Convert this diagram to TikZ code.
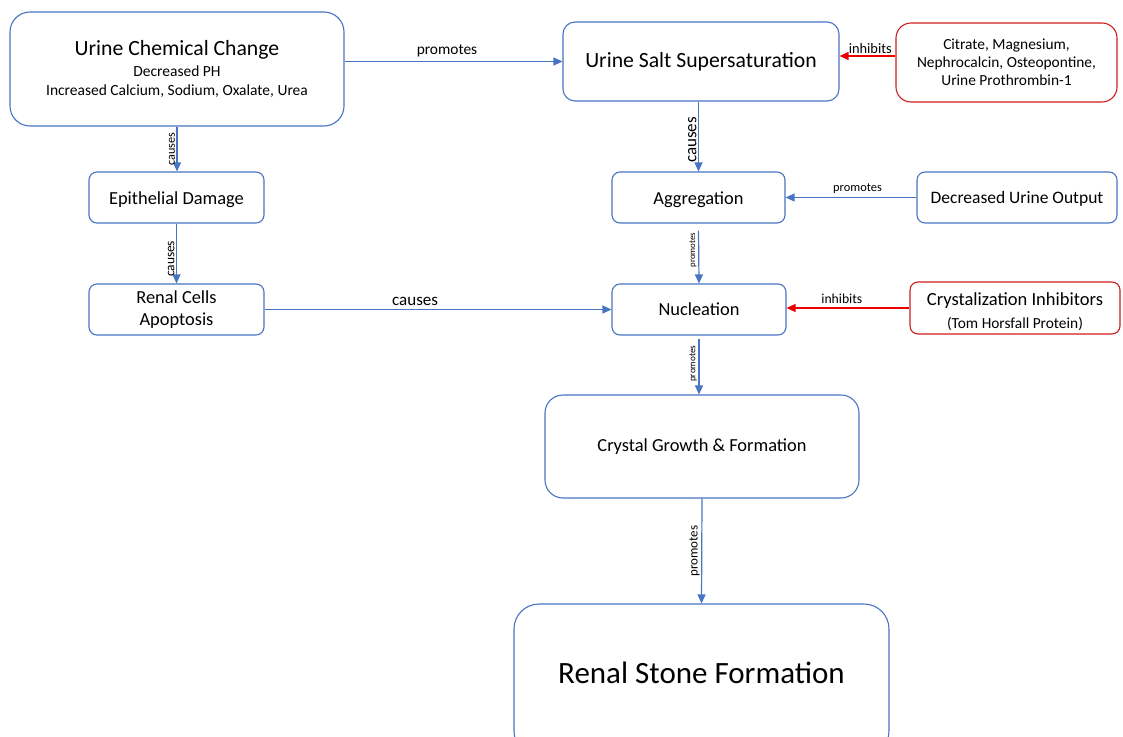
\documentclass[tikz,border=0pt]{standalone}
\usepackage{fontspec}
\setmainfont{Carlito}
\usepackage{tikz}
\usepackage{xcolor}
\usetikzlibrary{calc}
\usetikzlibrary{arrows.meta}
\definecolor{flowblue}{RGB}{72,116,196}
\definecolor{boxred}{RGB}{204,30,30}
\definecolor{arrred}{RGB}{235,0,0}
\newcommand{\fs}[1]{\fontsize{#1}{1.2\dimexpr#1pt\relax}\selectfont}
\newcommand{\nudge}[2]{\raisebox{#1}[\height][\depth]{#2}}

\begin{document}
\begin{tikzpicture}[x=1pt,y=-1pt,
   bluebox/.style={draw=flowblue,line width=1.1pt,fill=white,rectangle,inner sep=0pt,align=center},
   redbox/.style={bluebox,draw=boxred},
   flow/.style={draw=flowblue,line width=1.2pt,-{Triangle[length=9pt,width=8pt]}},
   inhib/.style={flow,draw=arrred,-{Triangle[length=9pt,width=8pt,fill=arrred]}},
   lbl/.style={inner sep=1.5pt,text=black},
   vlbl/.style={lbl,rotate=90,anchor=south}]
\useasboundingbox (0,0) rectangle (1123,736);
\node[bluebox,rounded corners=20pt,minimum width=334pt,minimum height=114pt,font=\fontsize{15.5}{19}\selectfont] (ucc) at (177,69)
   {{\fs{21.7}Urine Chemical Change}\\[2pt]Decreased PH\\Increased Calcium, Sodium, Oxalate, Urea};
\node[bluebox,rounded corners=12pt,minimum width=276pt,minimum height=79pt,font=\fs{21.7}] (uss) at (701,61.5) {Urine Salt Supersaturation};
\node[redbox,rounded corners=15pt,minimum width=221pt,minimum height=79pt,font=\fontsize{15.4}{18}\selectfont] (cit) at (1006.5,62.5)
   {Citrate, Magnesium,\\Nephrocalcin, Osteopontine,\\Urine Prothrombin-1};
\node[bluebox,rounded corners=8pt,minimum width=175pt,minimum height=51pt,font=\fs{18.4}] (epi) at (176.5,197.5) {\nudge{-2pt}{Epithelial Damage}};
\node[bluebox,rounded corners=8pt,minimum width=175pt,minimum height=51pt,font=\fontsize{18.4}{22}\selectfont] (rca) at (176.5,309.5) {Renal Cells\\Apoptosis};
\node[bluebox,rounded corners=8pt,minimum width=173pt,minimum height=51pt,font=\fs{18.4}] (agg) at (698.5,197.5) {\nudge{-2pt}{Aggregation}};
\node[bluebox,rounded corners=8pt,minimum width=200pt,minimum height=51pt,font=\fs{17.5}] (duo) at (1017,197.5) {\nudge{-1pt}{Decreased Urine Output}};
\node[bluebox,rounded corners=8pt,minimum width=174pt,minimum height=51pt,font=\fs{18.4}] (nuc) at (699,309.5) {Nucleation};
\node[redbox,rounded corners=8pt,minimum width=210pt,minimum height=52pt,font=\fontsize{15.4}{23}\selectfont] (cin) at (1015,308)
   {\nudge{-4pt}{\begin{tabular}{@{}c@{}}{\fs{18.5}Crystalization Inhibitors}\\(Tom Horsfall Protein)\end{tabular}}};
\node[bluebox,rounded corners=18pt,minimum width=314pt,minimum height=103pt,font=\fs{18.4}] (cgf) at (702,446.5) {Crystal Growth \& Formation};
\node[bluebox,rounded corners=25pt,minimum width=375pt,minimum height=152pt,font=\fs{31}] (rsf) at (701.5,680) {\nudge{7.5pt}{Renal Stone Formation}};

\draw[flow] (ucc.east |- uss.west) -- node[lbl,pos=0.47,above=2pt,font=\fs{15.4}] (l1) {promotes} (uss.west);
\draw[inhib] ([yshift=6.5pt]cit.west) -- node[lbl,pos=0.45,above,font=\fs{14.4}] (l2) {inhibits} ([yshift=5.5pt]uss.east);
\draw[flow] (ucc.south) -- node[vlbl,font=\fs{12.2}] (l3) {causes} (ucc.south |- epi.north);
\draw[flow] (epi.south) -- node[vlbl,pos=0.59,font=\fs{13.4}] (l4) {causes} (rca.north);
\draw[flow] (rca.east) -- node[lbl,pos=0.434,above=2pt,font=\fs{17}] (l5) {causes} (nuc.west);
\draw[flow] (agg.north |- uss.south) -- node[vlbl,pos=0.55,font=\fs{17}] (l6) {causes} (agg.north);
\draw[flow] (duo.west) -- node[lbl,pos=0.45,above=2pt,font=\fs{12.4}] (l7) {promotes} (agg.east);
\draw[flow] ([yshift=-7pt]agg.south) -- node[vlbl,pos=0.37,font=\fs{8.8}] (l8) {promotes} (nuc.north);
\draw[inhib] (cin.west) -- node[lbl,pos=0.55,above=2pt,font=\fs{13.7}] (l9) {inhibits} (cin.west -| nuc.east);
\draw[flow] ([yshift=-3pt]nuc.south) -- node[vlbl,pos=0.45,font=\fs{9.3}] (l10) {promotes} (nuc.south |- cgf.north);
\draw[flow] (cgf.south) -- node[vlbl,pos=0.5,font=\fs{13}] (l11) {promotes} (rsf.north);
\end{tikzpicture}
\end{document}
